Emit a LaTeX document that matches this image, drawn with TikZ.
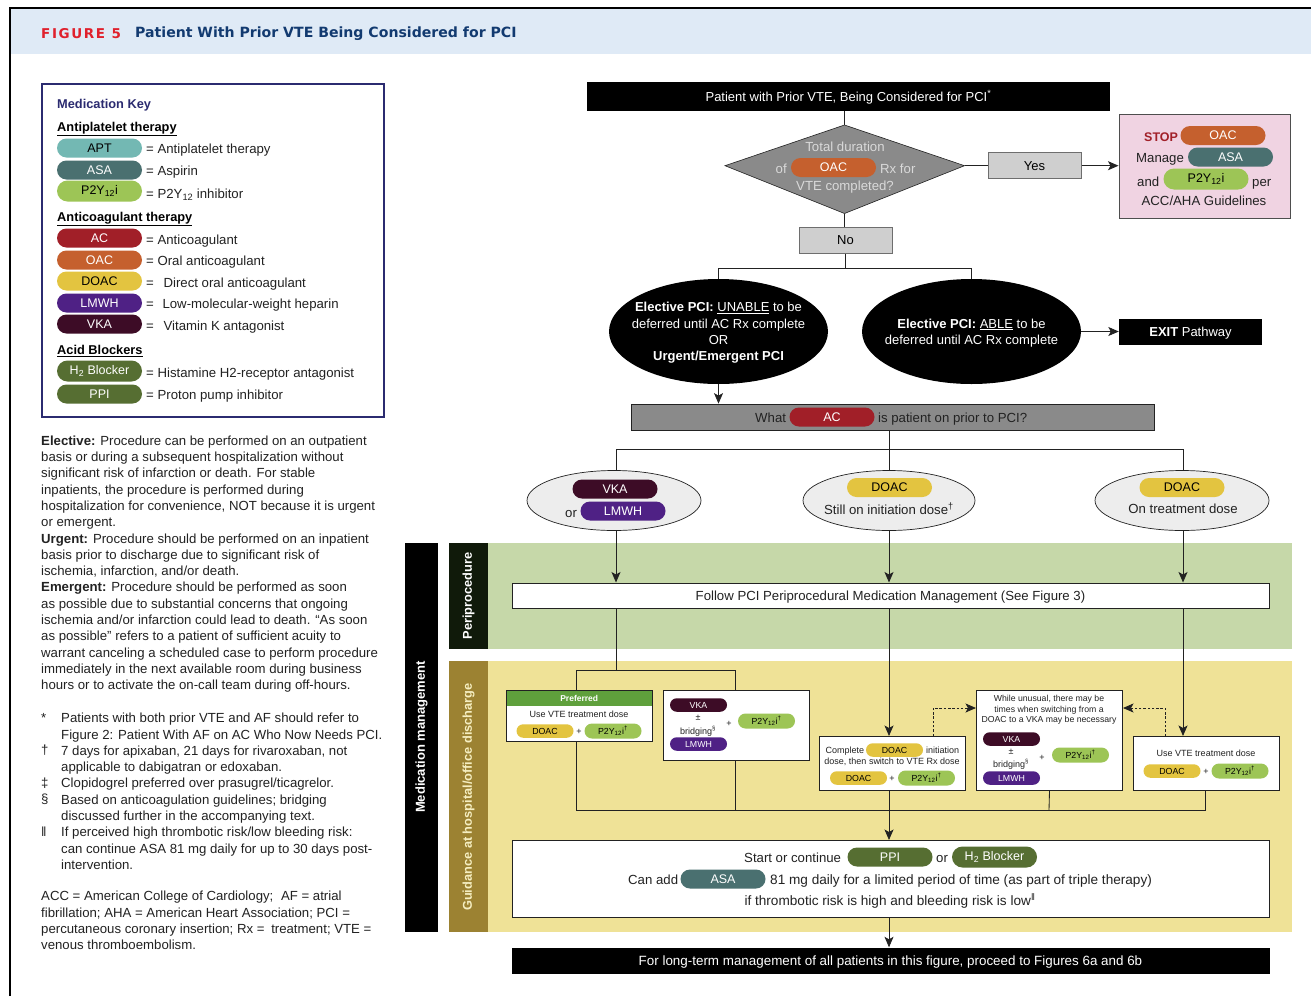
\documentclass[tikz,border=0pt]{standalone}
\usepackage{fontspec}
\setmainfont{Liberation Sans}
\newfontfamily\headfont{DejaVu Sans}
\usetikzlibrary{shapes.misc,shapes.geometric,arrows.meta,calc}
\definecolor{cApt}{HTML}{73B8B3}\definecolor{cAsa}{HTML}{4A7070}\definecolor{cPy}{HTML}{9DC556}
\definecolor{cAc}{HTML}{A11F28}\definecolor{cOac}{HTML}{C5602E}\definecolor{cDoac}{HTML}{E3C440}
\definecolor{cLm}{HTML}{4F2185}\definecolor{cVka}{HTML}{3D0C26}\definecolor{cPp}{HTML}{566E32}
\definecolor{cNavy}{HTML}{2B2B70}\definecolor{cHead}{HTML}{DFEAF6}\definecolor{cTitle}{HTML}{123A70}
\definecolor{cRed}{HTML}{E0202C}\definecolor{cGray}{HTML}{8A8A8A}\definecolor{cLight}{HTML}{CFCFCF}
\definecolor{cPink}{HTML}{F0D3E2}\definecolor{cGreen}{HTML}{C6D8A9}\definecolor{cYel}{HTML}{EFE297}
\definecolor{cOlive}{HTML}{9C8232}\definecolor{cPref}{HTML}{5FA03C}\definecolor{cTxt}{HTML}{222222}
\definecolor{cDark}{HTML}{101A0A}
\newcommand{\pyi}{P2Y\textsubscript{12}i}
\tikzset{
 x=1pt,y=-1pt,
 pill/.style={rounded rectangle,inner sep=0pt,minimum width=85pt,minimum height=19pt,font=\fontsize{12.5}{14}\selectfont},
 small/.style={pill,minimum width=57pt,minimum height=13.5pt,font=\fontsize{8.8}{10}\selectfont},
 apt/.style={fill=cApt,text=black},asa/.style={fill=cAsa,text=white},py/.style={fill=cPy,text=black},
 ac/.style={fill=cAc,text=white},oac/.style={fill=cOac,text=white},doac/.style={fill=cDoac,text=black},
 lm/.style={fill=cLm,text=white},vka/.style={fill=cVka,text=white},pp/.style={fill=cPp,text=white},
 lab/.style={inner sep=0pt,text=cTxt,font=\fontsize{13.2}{15}\selectfont,text height=9.8pt,text depth=1.2pt},
 wide/.style={lab,font=\fontsize{13.6}{15}\selectfont},
 tiny/.style={inner sep=0pt,text=cTxt,font=\fontsize{9}{10.5}\selectfont,text height=6.8pt,text depth=2pt},
 block/.style={inner sep=0pt,text=cTxt,align=left,anchor=north west,font=\fontsize{13.2}{16.3}\selectfont},
 wbox/.style={draw=#1,fill=white,line width=1pt,inner sep=0pt},
 gbox/.style={draw=cGray!80!black,fill=cLight,line width=1pt,inner sep=0pt,font=\fontsize{13}{15}\selectfont},
 bar/.style={fill=black,text=white,inner sep=0pt,font=\fontsize{13}{15}\selectfont,text height=9.7pt,text depth=0pt},
 side/.style={inner sep=0pt,rotate=90,font=\bfseries\fontsize{12.8}{15}\selectfont},
 line/.style={draw=cTxt,line width=.85pt},
 arr/.style={line,-{Stealth[length=10.5pt,width=9pt,inset=2.5pt]}},
 dasharr/.style={draw=cTxt,line width=.8pt,dash pattern=on 2.5pt off 1.8pt,-{Stealth[length=10.5pt,width=9pt,inset=2.5pt]}},
 head/.style={inner sep=0pt,anchor=west,text=black,font=\bfseries\fontsize{12.8}{15}\selectfont},
}
\begin{document}
\begin{tikzpicture}
\useasboundingbox (0,0) rectangle (1311,996);
\fill[white] (0,0) rectangle (1311,996);
% frame and header
\fill[cHead] (10,8) rectangle (1311,54);
\draw[black,line width=1.5pt] (10,996) -- (10,8) -- (1311,8);
\node[inner sep=0pt,anchor=west,text=cRed] (fig) at (41,33.5) {\headfont\bfseries\fontsize{13.5}{15}\selectfont\addfontfeatures{LetterSpace=12}FIGURE 5};
\node[inner sep=0pt,anchor=west,text=cTitle] (title) at (135,33.5) {\headfont\bfseries\fontsize{14.1}{17}\selectfont Patient With Prior VTE Being Considered for PCI};
% key
\node[draw=cNavy,line width=1.8pt,inner sep=0pt,minimum width=342pt,minimum height=333pt,anchor=north west] (key) at (41,83) {};
\node[head,text=cNavy] (k0) at (57,105) {Medication Key};
\node[head] (h1) at (57,129) {\underline{Antiplatelet therapy}};
\node[pill,apt] (kApt) at (99.5,148) {APT};
\node[pill,asa] (kAsa) at (99.5,170) {ASA};
\node[pill,py,minimum height=21pt] (kPy) at (99.5,191) {\pyi};
\node[head] (h2) at (57,219) {\underline{Anticoagulant therapy}};
\node[pill,ac] (kAc) at (99.5,238) {AC};
\node[pill,oac] (kOac) at (99.5,260) {OAC};
\node[pill,doac] (kDoac) at (99.5,281) {DOAC};
\node[pill,lm] (kLm) at (99.5,303) {LMWH};
\node[pill,vka] (kVka) at (99.5,324) {VKA};
\node[head] (h3) at (57,351) {\underline{Acid Blockers}};
\node[pill,pp,minimum height=21pt] (kH) at (99.5,371) {H\textsubscript{2} Blocker};
\node[pill,pp] (kPpi) at (99.5,394) {PPI};
\node[lab,anchor=west] (e1) at (146,149.5) {= Antiplatelet therapy};
\node[lab,anchor=west] (e2) at (146,171) {= Aspirin};
\node[lab,anchor=west] (e3) at (146,194) {= P2Y\textsubscript{12} inhibitor};
\node[lab,anchor=west] (e4) at (146,240) {= Anticoagulant};
\node[lab,anchor=west] (e5) at (146,261.5) {= Oral anticoagulant};
\node[lab,anchor=west] (e6) at (146,283) {=\hspace{6pt} Direct oral anticoagulant};
\node[lab,anchor=west] (e7) at (146,304.5) {=\hspace{5pt} Low-molecular-weight heparin};
\node[lab,anchor=west] (e8) at (146,326) {=\hspace{6pt} Vitamin K antagonist};
\node[lab,anchor=west] (e9) at (146,373.5) {= Histamine H2-receptor antagonist};
\node[lab,anchor=west] (e10) at (146,395) {= Proton pump inhibitor};
% left text
\node[block] (defs) at (41,435.5) {\textbf{Elective:} Procedure can be performed on an outpatient\\
basis or during a subsequent hospitalization without\\
significant risk of infarction or death. For stable\\
inpatients, the procedure is performed during\\
hospitalization for convenience, NOT because it is urgent\\
or emergent.\\
\textbf{Urgent:} Procedure should be performed on an inpatient\\
basis prior to discharge due to significant risk of\\
ischemia, infarction, and/or death.\\
\textbf{Emergent:} Procedure should be performed as soon\\
as possible due to substantial concerns that ongoing\\
ischemia and/or infarction could lead to death. “As soon\\
as possible” refers to a patient of sufficient acuity to\\
warrant canceling a scheduled case to perform procedure\\
immediately in the next available room during business\\
hours or to activate the on-call team during off-hours.};
\node[block] (fsym) at (41,713) {*\\\\†\\\\‡\\§\\\\‖};
\node[block] (fnotes) at (61,713) {Patients with both prior VTE and AF should refer to\\
Figure 2: Patient With AF on AC Who Now Needs PCI.\\
7 days for apixaban, 21 days for rivaroxaban, not\\
applicable to dabigatran or edoxaban.\\
Clopidogrel preferred over prasugrel/ticagrelor.\\
Based on anticoagulation guidelines; bridging\\
discussed further in the accompanying text.\\
If perceived high thrombotic risk/low bleeding risk:\\
can continue ASA 81 mg daily for up to 30 days post-\\
intervention.};
\node[block] (abbr) at (41,891) {ACC = American College of Cardiology;\hspace{4pt} AF = atrial\\
fibrillation; AHA = American Heart Association; PCI =\\
percutaneous coronary insertion; Rx =\hspace{3pt} treatment; VTE =\\
venous thromboembolism.};
% bands
\fill[cGreen] (449,543) rectangle (1292,649);
\fill[cYel] (449,661) rectangle (1292,932);
\node[fill=black,minimum width=33pt,minimum height=389pt,inner sep=0pt,anchor=north west] (mBar) at (405,543) {};
\node[side,text=white,font=\bfseries\fontsize{13}{15}\selectfont] (mLab) at (421.5,737) {Medication management};
\node[fill=cDark,minimum width=39pt,minimum height=106pt,inner sep=0pt,anchor=north west] (pBar) at (449,543) {};
\node[side,text=white] (pLab) at (468.5,596) {Periprocedure};
\node[fill=cOlive,minimum width=39pt,minimum height=271pt,inner sep=0pt,anchor=north west] (gBar) at (449,661) {};
\node[side,text=cYel!60!white] (gLab) at (468.5,797) {Guidance at hospital/office discharge};
% top flow
\node[bar,minimum width=523pt,minimum height=29pt] (start) at (848.5,96.5) {Patient with Prior VTE, Being Considered for PCI\textsuperscript{*}};
\coordinate (diaN) at (844.5,125);\coordinate (diaE) at (964.5,165.7);
\coordinate (diaS) at (844.5,213.5);\coordinate (diaW) at (725,165.7);
\draw[fill=cGray,draw=cTxt,line width=.6pt] (diaN) -- (diaE) -- (diaS) -- (diaW) -- cycle;
\node[lab,text=white!85!black] (d1) at (845,147) {Total duration};
\node[lab,text=white!85!black,anchor=west] (d2) at (775.5,169) {of};
\node[pill,oac] (dOac) at (833.5,167.5) {OAC};
\node[lab,text=white!85!black,anchor=west] (d3) at (880,169) {Rx for};
\node[lab,text=white!85!black] (d4) at (845,186) {VTE completed?};
\node[gbox,minimum width=93pt,minimum height=26pt] (yes) at (1034.5,165.7) {Yes};
\node[gbox,minimum width=93pt,minimum height=26pt] (no) at (845.5,240) {No};
\node[draw=cTxt!80,line width=1pt,fill=cPink,inner sep=0pt,minimum width=171pt,minimum height=104pt] (stop) at (1204.5,166) {};
\node[lab,anchor=west,text=cAc,font=\bfseries\fontsize{12.5}{15}\selectfont] (s1) at (1144,137) {STOP};
\node[pill,oac] (sOac) at (1223,135.5) {OAC};
\node[lab,anchor=west] (s2) at (1136,158.5) {Manage};
\node[pill,asa] (sAsa) at (1230.5,157) {ASA};
\node[lab,anchor=west] (s3) at (1137,182) {and};
\node[pill,py,minimum height=21pt] (sPy) at (1206,179) {\pyi};
\node[lab,anchor=west] (s4) at (1252,182) {per};
\node[lab] (s5) at (1204,201) {ACC/AHA Guidelines};
\draw[line] (start.south -| diaN) -- (diaN);
\draw[line] (diaE) -- (yes.west);
\draw[arr] (yes.east) -- (stop.west |- yes.east);
\draw[line] (diaS) -- (no.north -| diaS);
\node[ellipse,fill=black,inner sep=0pt,minimum width=219pt,minimum height=105pt] (e1L) at (718.5,331.5) {};
\node[ellipse,fill=black,inner sep=0pt,minimum width=219pt,minimum height=105pt] (e2L) at (971.5,331.5) {};
\coordinate (jn) at (845,268);
\draw[line] (no.south -| jn) -- (jn);
\draw[line] (e1L.north) -- (e1L.north |- jn) -- (e2L.north |- jn) -- (e2L.north);
\node[inner sep=0pt,align=center,text=white,font=\fontsize{13}{16.3}\selectfont] (t1L) at (718.5,333) {\textbf{Elective PCI:} \underline{UNABLE} to be\\deferred until AC Rx complete\\OR\\\textbf{Urgent/Emergent PCI}};
\node[inner sep=0pt,align=center,text=white,font=\fontsize{13}{16.3}\selectfont] (t2L) at (971.5,333) {\textbf{Elective PCI:} \underline{ABLE} to be\\deferred until AC Rx complete};
\node[bar,minimum width=143pt,minimum height=26pt] (exit) at (1190.5,332) {\textbf{EXIT} Pathway};
\draw[arr] (e2L.east) -- (exit.west |- e2L.east);
\node[draw=cTxt,line width=.8pt,fill=cGray,inner sep=0pt,minimum width=523pt,minimum height=26pt] (what) at (892.5,417) {};
\draw[arr] (e1L.south) -- (e1L.south |- what.north);
\node[lab,anchor=west] (w1) at (755,418.5) {What};
\node[pill,ac] (wAc) at (832,417) {AC};
\node[lab,anchor=west] (w2) at (878,418.5) {is patient on prior to PCI?};
% three ellipses
\node[ellipse,draw=cTxt,line width=.7pt,fill=black!7,inner sep=0pt,minimum width=174pt,minimum height=60pt] (o1) at (614,500.5) {};
\node[ellipse,draw=cTxt,line width=.7pt,fill=black!7,inner sep=0pt,minimum width=172pt,minimum height=60pt] (o2) at (889,500.5) {};
\node[ellipse,draw=cTxt,line width=.7pt,fill=black!7,inner sep=0pt,minimum width=174pt,minimum height=60pt] (o3) at (1182,500.5) {};
\coordinate (jw) at (889,449);
\draw[line] (what.south -| jw) -- (o2.north);
\draw[line] (o1.north -| 616.5,0) -- (616.5,449) -- (1183,449) -- (o3.north -| 1183,0);
\node[pill,vka] (o1V) at (615,489) {VKA};
\node[lab,anchor=west] (o1o) at (565,513.5) {or};
\node[pill,lm] (o1L) at (623,511) {LMWH};
\node[pill,doac] (o2D) at (889.5,487.5) {DOAC};
\node[lab] (o2t) at (889,510) {Still on initiation dose\textsuperscript{†}};
\node[pill,doac] (o3D) at (1182,487.5) {DOAC};
\node[lab] (o3t) at (1183,509.5) {On treatment dose};
% periprocedure box
\node[wbox=cTxt,minimum width=757pt,minimum height=25pt] (peri) at (890.5,595.5) {};
\node[lab] (periT) at (890.5,596.5) {Follow PCI Periprocedural Medication Management (See Figure 3)};
\draw[arr] (o1.south -| 616,0) -- (peri.north -| 616,0);
\draw[arr] (o2.south) -- (peri.north -| o2.south);
\draw[arr] (o3.south -| 1183,0) -- (peri.north -| 1183,0);
% boxes
\node[wbox=cTxt,minimum width=146pt,minimum height=51pt,anchor=north west] (b1) at (506,690) {};
\node[fill=cPref,text=white,inner sep=0pt,minimum width=145pt,minimum height=15pt,anchor=north west,font=\bfseries\fontsize{8.5}{10}\selectfont] (b1h) at (506.5,690.5) {Preferred};
\node[tiny] (b1t) at (579,715) {Use VTE treatment dose};
\node[small,doac] (b1d) at (545,731) {DOAC};
\node[tiny] (b1p) at (579,732) {+};
\node[small,py,minimum height=15pt] (b1y) at (613,731) {\pyi\textsuperscript{†}};
\node[wbox=cTxt,minimum width=146pt,minimum height=70pt,anchor=north west] (b2) at (663,690) {};
\node[small,vka] (b2v) at (698.5,705) {VKA};
\node[tiny] (b2a) at (698,718) {±};
\node[tiny] (b2b) at (698,732) {bridging\textsuperscript{§}};
\node[small,lm] (b2l) at (698.5,744) {LMWH};
\node[tiny] (b2p) at (729,724) {+};
\node[small,py,minimum height=15pt] (b2y) at (766.5,721) {\pyi\textsuperscript{†}};
\node[wbox=cTxt,minimum width=146pt,minimum height=54pt,anchor=north west] (b3) at (819,736) {};
\node[tiny,anchor=west] (b3a) at (825.5,751) {Complete};
\node[small,doac] (b3d) at (894.5,750) {DOAC};
\node[tiny,anchor=west] (b3b) at (926,751) {initiation};
\node[tiny] (b3c) at (892,762) {dose, then switch to VTE Rx dose};
\node[small,doac] (b3e) at (858.5,778) {DOAC};
\node[tiny] (b3p) at (892,779) {+};
\node[small,py,minimum height=15pt] (b3y) at (926.5,778) {\pyi\textsuperscript{†}};
\node[wbox=cTxt,minimum width=146pt,minimum height=100pt,anchor=north west] (b4) at (976,690) {};
\node[inner sep=0pt,align=center,text=cTxt,font=\fontsize{8.7}{10.6}\selectfont] (b4t) at (1049,710) {While unusual, there may be\\times when switching from a\\DOAC to a VKA may be necessary};
\node[small,vka] (b4v) at (1011.5,739) {VKA};
\node[tiny] (b4a) at (1011,752) {±};
\node[tiny] (b4b) at (1011,765) {bridging\textsuperscript{§}};
\node[small,lm] (b4l) at (1011.5,778) {LMWH};
\node[tiny] (b4p) at (1042,758) {+};
\node[small,py,minimum height=15pt] (b4y) at (1080.5,755) {\pyi\textsuperscript{†}};
\node[wbox=cTxt,minimum width=146pt,minimum height=54pt,anchor=north west] (b5) at (1133,736) {};
\node[tiny] (b5t) at (1206,754) {Use VTE treatment dose};
\node[small,doac] (b5d) at (1172,771) {DOAC};
\node[tiny] (b5p) at (1206,772) {+};
\node[small,py,minimum height=15pt] (b5y) at (1240,771) {\pyi\textsuperscript{†}};
% bottom box
\node[wbox=cTxt,minimum width=757pt,minimum height=77pt,anchor=north west] (fin) at (512,840) {};
\node[lab,anchor=west] (f1) at (744,858.5) {Start or continue};
\node[pill,pp] (fP) at (890,857) {PPI};
\node[lab,anchor=west] (f2) at (936,858.5) {or};
\node[pill,pp,minimum height=21pt] (fH) at (994.5,857) {H\textsubscript{2} Blocker};
\node[lab,anchor=west] (f3) at (628,880.5) {Can add};
\node[pill,asa] (fA) at (723,879) {ASA};
\node[wide,anchor=west] (f4) at (770,880.5) {81 mg daily for a limited period of time (as part of triple therapy)};
\node[wide] (f5) at (890,901) {if thrombotic risk is high and bleeding risk is low\textsuperscript{‖}};
\node[bar,minimum width=758pt,minimum height=26pt,font=\fontsize{13.4}{15}\selectfont] (end) at (890.5,960.5) {For long-term management of all patients in this figure, proceed to Figures 6a and 6b};
% connectors
\coordinate (topL) at (576,670);\coordinate (topR) at (735,670);
\coordinate (botY) at (576,810);
\draw[line] (peri.south -| 616,0) -- (616,670);
\draw[line] (b1.north -| topL) -- (topL) -- (topR) -- (b2.north -| topR);
\draw[line] (b1.south -| topL) -- (botY) -- (1205,810) -- (b5.south -| 1205,0);
\draw[line] (b2.south -| topR) -- (735,810);
\draw[line] (b4.south) -- (1049,810);
\draw[arr] (peri.south -| 889,0) -- (b3.north -| 889,0);
\draw[arr] (b3.south -| 889,0) -- (fin.north -| 889,0);
\draw[arr] (peri.south -| 1183,0) -- (b5.north -| 1183,0);
\draw[dasharr] (b3.north -| 933,0) -- (933,708) -- (b4.west |- 0,708);
\draw[dasharr] (b5.north -| 1165,0) -- (1165,708) -- (b4.east |- 0,708);
\draw[arr] (fin.south -| 889,0) -- (end.north -| 889,0);
\end{tikzpicture}
\end{document}
